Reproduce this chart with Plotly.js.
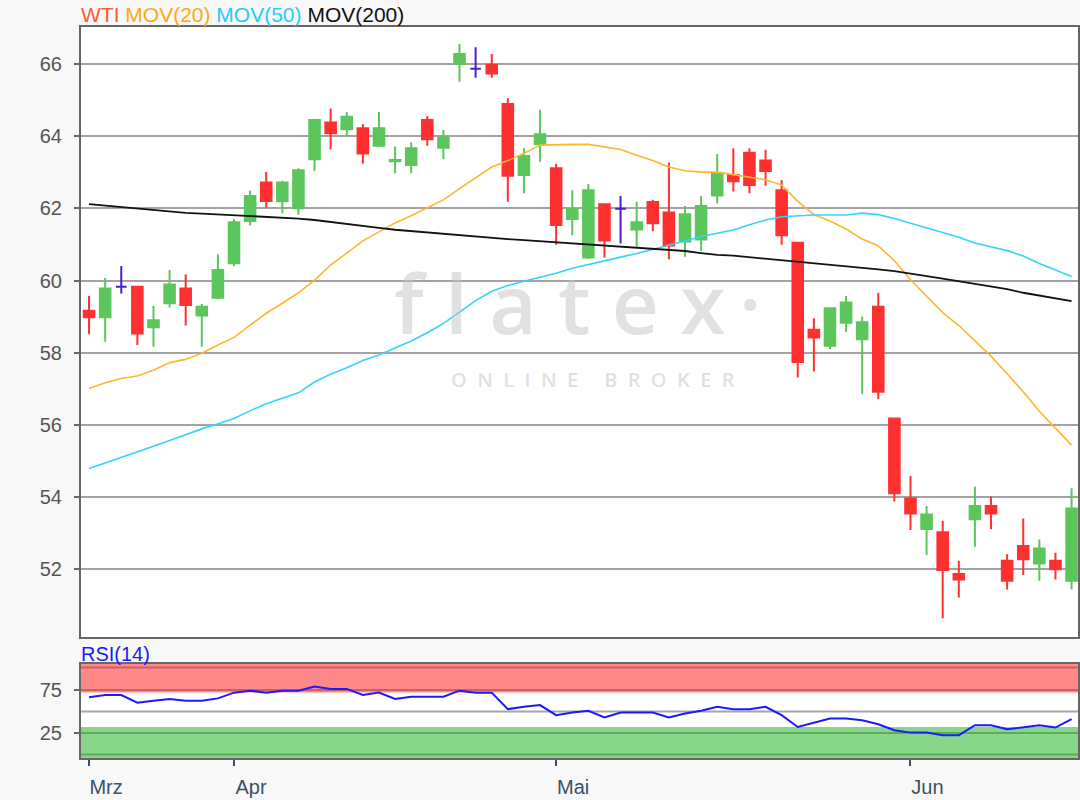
<!DOCTYPE html>
<html>
<head>
<meta charset="utf-8">
<script src="https://cdn.plot.ly/plotly-3.0.1.min.js"></script>
<style>
  html, body { margin: 0; padding: 0; background: #f8f8f8; }
  #chart { width: 1080px; height: 800px; }
</style>
</head>
<body>
<div id="chart"></div>
<script>
// ---- Data ----
const monthLabels = ['Mrz', 'Apr', 'Mai', 'Jun'];
const monthTickIdx = [0, 9, 29, 51];

const openP = [59.16,58.98,59.83,59.83,58.70,59.37,59.78,59.03,59.52,60.48,
  61.65,62.72,62.20,62.01,63.37,64.39,64.20,64.23,63.74,63.31,
  63.21,64.46,63.69,66.01,65.88,65.99,64.90,62.93,63.79,63.12,
  61.71,60.64,62.12,61.99,61.42,62.18,61.89,61.08,61.14,62.36,
  62.93,63.55,63.33,62.51,61.05,58.63,58.19,58.83,58.37,59.27,
  56.17,53.95,53.10,53.01,51.85,53.37,53.74,52.22,52.63,52.14,
  52.22,51.66];
const highP = [59.57,60.07,60.40,59.85,59.29,60.29,60.17,59.35,60.73,61.70,
  62.50,63.01,62.77,63.12,64.48,64.78,64.68,64.34,64.68,63.72,
  63.84,64.57,64.18,66.57,66.48,66.29,65.06,63.67,64.74,63.24,
  62.51,62.68,62.13,62.35,62.19,62.24,63.28,62.07,62.35,63.51,
  63.67,63.67,63.63,62.79,61.07,58.95,59.23,59.57,59.00,59.66,
  56.19,54.57,53.74,53.33,52.22,54.27,54.00,52.40,53.39,52.81,
  52.44,54.23];
const lowP = [58.51,58.30,59.64,58.21,58.16,59.25,58.75,58.16,59.48,60.40,
  61.53,62.02,61.87,61.82,63.04,63.64,64.01,63.24,63.71,62.98,
  62.98,63.74,63.37,65.52,65.63,65.63,62.19,62.42,63.30,60.99,
  61.26,60.60,60.64,61.03,60.94,61.37,60.59,60.66,60.82,62.14,
  62.47,62.42,62.63,60.99,57.31,57.47,58.09,58.58,56.85,56.70,
  53.86,53.07,52.38,50.62,51.20,52.61,53.09,51.42,51.82,51.66,
  51.70,51.42];
const closeP = [58.98,59.78,59.83,58.53,58.90,59.89,59.32,59.27,60.29,61.62,
  62.35,62.21,62.72,63.06,64.46,64.09,64.55,63.53,64.23,63.35,
  63.67,63.92,63.97,66.29,65.88,65.75,62.91,63.46,64.06,61.54,
  61.99,62.51,61.11,61.99,61.62,61.59,60.97,61.84,62.07,62.96,
  62.76,62.65,63.04,61.26,57.74,58.42,59.23,59.39,58.84,56.91,
  54.09,53.53,53.50,51.96,51.70,53.74,53.53,51.66,52.26,52.56,
  51.98,53.67];

const mov20 = [57.00,57.16,57.28,57.35,57.51,57.72,57.81,57.98,58.21,58.42,
  58.76,59.09,59.37,59.66,60.01,60.43,60.76,61.10,61.35,61.60,
  61.80,62.02,62.24,62.55,62.86,63.15,63.33,63.53,63.76,63.78,
  63.78,63.78,63.70,63.64,63.48,63.33,63.15,63.05,63.01,63.01,
  62.94,62.88,62.80,62.65,62.20,61.83,61.65,61.43,61.15,60.96,
  60.55,60.02,59.55,59.11,58.75,58.33,57.90,57.41,56.91,56.37,
  55.90,55.43];
const mov50 = [54.78,54.93,55.08,55.24,55.40,55.56,55.73,55.88,56.02,56.17,
  56.38,56.58,56.73,56.88,57.18,57.40,57.58,57.78,57.93,58.12,
  58.32,58.55,58.81,59.12,59.44,59.70,59.86,59.98,60.08,60.20,
  60.34,60.45,60.56,60.65,60.75,60.86,60.98,61.10,61.22,61.31,
  61.40,61.55,61.68,61.77,61.80,61.82,61.82,61.82,61.87,61.83,
  61.72,61.59,61.47,61.34,61.20,61.04,60.94,60.83,60.68,60.47,
  60.29,60.11];
const mov200 = [62.12,62.08,62.05,62.00,61.95,61.91,61.88,61.86,61.84,61.80,
  61.78,61.77,61.76,61.72,61.68,61.62,61.58,61.52,61.46,61.41,
  61.37,61.33,61.29,61.25,61.22,61.18,61.15,61.12,61.09,61.06,
  61.03,60.99,60.96,60.93,60.90,60.88,60.85,60.82,60.76,60.71,
  60.69,60.65,60.61,60.57,60.52,60.48,60.44,60.39,60.35,60.31,
  60.26,60.20,60.12,60.05,59.98,59.90,59.84,59.76,59.66,59.58,
  59.50,59.43];
const rsi14 = [66.4,69.1,69.1,60.2,62.5,64.5,62.5,62.5,65.2,71.9,
  74.2,71.9,74.2,74.2,78.9,76.2,76.2,69.1,71.9,64.5,
  67.2,67.2,67.2,74.2,71.9,71.9,52.7,55.5,57.4,45.7,
  48.8,50.8,43.0,48.8,48.8,48.8,43.0,47.7,50.8,55.5,
  52.7,52.7,55.5,45.7,32.0,37.1,41.8,41.8,39.8,35.2,
  28.1,25.4,25.4,22.3,22.3,34.0,34.0,29.3,31.3,34.0,
  31.3,41.0];
const rsiTicks = [25, 75];

// ---- Build traces ----
const idx = openP.map((_, i) => i);
const isDoji = i => openP[i] === closeP[i];
const normIdx = idx.filter(i => !isDoji(i));
const dojiIdx = idx.filter(isDoji);
const pick = (arr, ids) => ids.map(i => arr[i]);

const UP = '#5cc65c', DOWN = '#ff3030', DOJI = '#4a1fd0';
const FONT = 'Liberation Sans, Arial, sans-serif';
const FS = 20;

const traces = [
  {
    type: 'candlestick', x: normIdx,
    open: pick(openP, normIdx), high: pick(highP, normIdx),
    low: pick(lowP, normIdx), close: pick(closeP, normIdx),
    increasing: { line: { color: UP, width: 2 }, fillcolor: UP },
    decreasing: { line: { color: DOWN, width: 2 }, fillcolor: DOWN },
    whiskerwidth: 0, xaxis: 'x', yaxis: 'y', hoverinfo: 'skip'
  },
  {
    type: 'candlestick', x: dojiIdx,
    open: pick(openP, dojiIdx), high: pick(highP, dojiIdx),
    low: pick(lowP, dojiIdx), close: pick(closeP, dojiIdx),
    increasing: { line: { color: DOJI, width: 2 }, fillcolor: DOJI },
    decreasing: { line: { color: DOJI, width: 2 }, fillcolor: DOJI },
    whiskerwidth: 0, xaxis: 'x', yaxis: 'y', hoverinfo: 'skip'
  },
  { type: 'scatter', mode: 'lines', x: idx, y: mov20, line: { color: '#ffb52e', width: 1.6 }, xaxis: 'x', yaxis: 'y' },
  { type: 'scatter', mode: 'lines', x: idx, y: mov50, line: { color: '#33d3ff', width: 1.6 }, xaxis: 'x', yaxis: 'y' },
  { type: 'scatter', mode: 'lines', x: idx, y: mov200, line: { color: '#111111', width: 1.8 }, xaxis: 'x', yaxis: 'y' },
  { type: 'scatter', mode: 'lines', x: idx, y: rsi14, line: { color: '#1a1aff', width: 2 }, xaxis: 'x2', yaxis: 'y2' }
];

const xRange = [-0.5, 61.4];
const axisLine = { showline: true, mirror: true, linecolor: '#666666', linewidth: 2, zeroline: false };

const layout = {
  width: 1080, height: 800,
  paper_bgcolor: '#f8f8f8', plot_bgcolor: '#ffffff',
  margin: { l: 81, r: 2, t: 27, b: 42 },
  showlegend: false, hovermode: false,
  font: { family: FONT, size: FS, color: '#555555' },
  boxgap: 0.1, boxgroupgap: 0.27,
  xaxis: Object.assign({
    domain: [0, 1], range: xRange, anchor: 'y',
    showgrid: false, showticklabels: false, ticks: '',
    rangeslider: { visible: false }
  }, axisLine),
  yaxis: Object.assign({
    domain: [0.1655, 1], range: [50.1, 67.04], anchor: 'x',
    tick0: 0, dtick: 2, showgrid: true, gridcolor: '#a3a3a3', gridwidth: 2,
    ticks: 'outside', ticklen: 5, tickwidth: 2, tickcolor: '#666666',
    ticklabelstandoff: 8,
    tickfont: { family: FONT, size: FS, color: '#555555' }
  }, axisLine),
  xaxis2: Object.assign({
    domain: [0, 1], range: xRange, anchor: 'y2',
    showgrid: false, tickmode: 'array', tickvals: monthTickIdx, ticktext: monthLabels,
    ticks: 'outside', ticklen: 6, tickwidth: 2, tickcolor: '#3a5068',
    ticklabelshift: 17, ticklabelstandoff: 4,
    tickfont: { family: FONT, size: FS, color: '#3a5068' }
  }, axisLine),
  yaxis2: Object.assign({
    domain: [0, 0.1286], range: [-4.1, 105.2], anchor: 'x2',
    showgrid: false, tickmode: 'array', tickvals: rsiTicks,
    ticks: 'outside', ticklen: 5, tickwidth: 2, tickcolor: '#666666',
    ticklabelstandoff: 8,
    tickfont: { family: FONT, size: FS, color: '#555555' }
  }, axisLine),
  shapes: [
    { type: 'rect', xref: 'paper', x0: 0, x1: 1, yref: 'y2', y0: 72, y1: 105.2, fillcolor: '#ff8888', line: { width: 0 }, layer: 'below' },
    { type: 'line', xref: 'paper', x0: 0, x1: 1, yref: 'y2', y0: 101, y1: 101, line: { color: '#d06060', width: 2 }, layer: 'below' },
    { type: 'line', xref: 'paper', x0: 0, x1: 1, yref: 'y2', y0: 75, y1: 75, line: { color: '#d06060', width: 2 }, layer: 'below' },
    { type: 'line', xref: 'paper', x0: 0, x1: 1, yref: 'y2', y0: 50, y1: 50, line: { color: '#a6a6a6', width: 2 }, layer: 'below' },
    { type: 'rect', xref: 'paper', x0: 0, x1: 1, yref: 'y2', y0: -4.1, y1: 32, fillcolor: '#88d788', line: { width: 0 }, layer: 'below' },
    { type: 'line', xref: 'paper', x0: 0, x1: 1, yref: 'y2', y0: 25, y1: 25, line: { color: '#5eaa5e', width: 2 }, layer: 'below' },
    { type: 'line', xref: 'paper', x0: 0, x1: 1, yref: 'y2', y0: 0, y1: 0, line: { color: '#5eaa5e', width: 2 }, layer: 'below' }
  ],
  annotations: [
    {
      xref: 'paper', yref: 'paper', x: 0, y: 1, xanchor: 'left', yanchor: 'bottom', yshift: -1, xshift: -2,
      showarrow: false, align: 'left',
      font: { family: FONT, size: 21 },
      text: '<span style="color:#ff5a2a">WTI</span> <span style="color:#ffaa11">MOV(20)</span> ' +
            '<span style="color:#22ccff">MOV(50)</span> <span style="color:#111111">MOV(200)</span>'
    },
    {
      xref: 'paper', yref: 'paper', x: 0, y: 0.1286, xanchor: 'left', yanchor: 'bottom', yshift: -3, xshift: -2,
      showarrow: false, text: 'RSI(14)', font: { family: FONT, size: FS, color: '#1a1aff' }
    },
    {
      xref: 'paper', yref: 'paper', x: 0.4985, y: 0.624, xanchor: 'center', yanchor: 'middle',
      showarrow: false, text: 'f l a t e x\u2009\u00B7', opacity: 0.5,
      font: { family: 'Open Sans, sans-serif', size: 82, color: '#c4c4c4', weight: 600 }
    },
    {
      xref: 'paper', yref: 'paper', x: 0.5135, y: 0.518, xanchor: 'center', yanchor: 'middle',
      showarrow: false, text: 'O  N  L  I  N  E     B  R  O  K  E  R', opacity: 0.5,
      font: { family: 'Open Sans, sans-serif', size: 20, color: '#c4c4c4', weight: 600 }
    }
  ]
};

Plotly.newPlot('chart', traces, layout, { staticPlot: true, displayModeBar: false });
</script>
</body>
</html>
